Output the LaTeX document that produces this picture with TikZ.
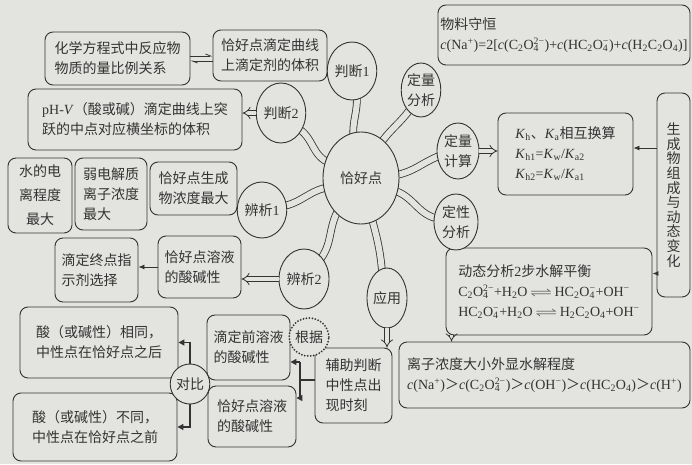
\documentclass[tikz,border=0pt]{standalone}
\usepackage[no-math]{fontspec}
\setmainfont{Noto Sans CJK SC}
\newfontfamily\lat{Liberation Serif}
\usepackage{amsmath,amssymb}
\usetikzlibrary{shapes.geometric,arrows.meta}
\definecolor{paperc}{HTML}{E3E3E0}
\definecolor{inkc}{HTML}{333333}
\pgfdeclarelayer{paper}
\pgfdeclarelayer{background}
\pgfsetlayers{paper,background,main}
\newcommand{\mysub}[1]{\textsubscript{#1}}
\newcommand{\mysup}[1]{\textsuperscript{#1}}
\newcommand{\mysubsup}[2]{\rlap{\textsubscript{#1}}\textsuperscript{#2}}
\newcommand{\myeq}{\,\scalebox{1.6}[1]{$\rightleftharpoons$}\,}
\newcommand{\gt}{{\rmfamily ＞}}
\begin{document}
\begin{tikzpicture}[x=1pt,y=1pt,
  every node/.style={font=\fontsize{14}{20}\selectfont, text=inkc},
  box/.style={draw=inkc, line width=0.9pt, rounded corners=8pt, fill=paperc, align=left, inner sep=2pt},
  ell/.style={draw=inkc, line width=0.9pt, ellipse, fill=paperc, inner sep=0pt, align=center},
  branch/.style={draw=inkc, line width=0.8pt, double=paperc, double distance=6pt, shorten <=-6pt, shorten >=-6pt},
  hollow/.style={draw=inkc, line width=0.8pt, double=paperc, double distance=3.5pt, -{Implies}},
  thinarr/.style={draw=inkc, line width=0.9pt, -{Latex[length=6pt,width=5pt]}},
  brk/.style={draw=inkc, line width=1.6pt},
  brkarr/.style={draw=inkc, line width=1.6pt, -{Triangle[length=6pt,width=6pt]}},
  harp/.style={draw=inkc, line width=0.8pt, -{Straight Barb[left,length=5pt,width=4pt]}}]
\begin{pgfonlayer}{paper}
\fill[paperc] (0,0) rectangle (692,464);
\end{pgfonlayer}
\useasboundingbox (0,0) rectangle (692,464);

% boxes
\node[box, minimum width=145pt, minimum height=53pt] (A) at (117.5,405.5) {化学方程式中反应物\\物质的量比例关系};
\node[box, minimum width=114pt, minimum height=51pt] (B) at (270,408.5) {恰好点滴定曲线\\上滴定剂的体积};
\node[box, minimum width=214pt, minimum height=61pt] (pH) at (135,344.5) {{\lat pH-\textit{V}}（酸或碱）滴定曲线上突\\跃的中点对应横坐标的体积};
\node[box, align=center, minimum width=64pt, minimum height=75pt, font=\fontsize{14}{24}\selectfont] (W1) at (40,268.5) {水的电\\离程度\\最大};
\node[box, minimum width=72pt, minimum height=72pt] (W2) at (111,270) {弱电解质\\离子浓度\\最大};
\node[box, minimum width=87pt, minimum height=53pt] (W3) at (193.5,275.5) {恰好点生成\\物浓度最大};
\node[box, minimum width=83pt, minimum height=64pt] (D1) at (96.5,194) {滴定终点指\\示剂选择};
\node[box, minimum width=83pt, minimum height=62pt] (D2) at (199.5,197) {恰好点溶液\\的酸碱性};
\node[box, minimum width=158pt, minimum height=71pt] (S1) at (99,121.5) {酸（或碱性）相同，\\中性点在恰好点之后};
\node[box, minimum width=164pt, minimum height=68pt] (S2) at (95,37) {酸（或碱性）不同，\\中性点在恰好点之前};
\node[box, minimum width=83pt, minimum height=65pt] (Pre) at (248.5,116.5) {滴定前溶液\\的酸碱性};
\node[box, minimum width=88pt, minimum height=61pt] (Post) at (252,47.5) {恰好点溶液\\的酸碱性};
\node[box, minimum width=77pt, minimum height=75pt] (Aux) at (353.5,78.5) {辅助判断\\中性点出\\现时刻};
\node[box, minimum width=291pt, minimum height=66pt] (Ion) at (544.5,89) {离子浓度大小外显水解程度\\
  {\lat\textit{c}(Na\mysup{+})\gt\textit{c}(C\mysub{2}O\mysubsup{4}{2−})\gt\textit{c}(OH\mysup{−})\gt\textit{c}(HC\mysub{2}O\mysub{4})\gt\textit{c}(H\mysup{+})}};
\node[box, minimum width=206pt, minimum height=87pt] (Dyn) at (549,172.5) {动态分析{\lat 2}步水解平衡\\
  {\lat C\mysub{2}O\mysubsup{4}{2−}+H\mysub{2}O\myeq HC\mysub{2}O\mysubsup{4}{−}+OH\mysup{−}}\\
  {\lat HC\mysub{2}O\mysubsup{4}{−}+H\mysub{2}O\myeq H\mysub{2}C\mysub{2}O\mysub{4}+OH\mysup{−}}};
\node[box, minimum width=135pt, minimum height=82pt] (Kh) at (565.5,310) {{\lat\textit{K}\mysub{h}}、{\lat\textit{K}\mysub{a}}相互换算\\
  {\lat\textit{K}\mysub{h1}=\textit{K}\mysub{w}/\textit{K}\mysub{a2}}\\ {\lat\textit{K}\mysub{h2}=\textit{K}\mysub{w}/\textit{K}\mysub{a1}}};
\node[box, align=center, minimum width=33pt, minimum height=204pt, font=\fontsize{14}{14.6}\selectfont] (Gen) at (673.5,269) {生\\成\\物\\组\\成\\与\\动\\态\\变\\化};
\node[box, minimum width=252pt, minimum height=60pt] (Mat) at (564,429) {物料守恒\\
  {\lat\textit{c}(Na\mysup{+})=2[\textit{c}(C\mysub{2}O\mysubsup{4}{2−})+\textit{c}(HC\mysub{2}O\mysubsup{4}{−})+\textit{c}(H\mysub{2}C\mysub{2}O\mysub{4})]}};

% ellipses
\node[ell, minimum width=76pt, minimum height=92pt] (ctr) at (361,286) {恰好点};
\node[ell, minimum width=44pt, minimum height=58pt] (pd1) at (352,393) {判断{\lat 1}};
\node[ell, minimum width=38pt, minimum height=54pt] (dl) at (421,374) {定量\\分析};
\node[ell, minimum width=46pt, minimum height=60pt] (pd2) at (281,351) {判断{\lat 2}};
\node[ell, minimum width=48pt, minimum height=56pt] (bx1) at (262,254) {辨析{\lat 1}};
\node[ell, minimum width=50pt, minimum height=60pt] (bx2) at (304,185) {辨析{\lat 2}};
\node[ell, minimum width=40pt, minimum height=60pt] (yy) at (387,166) {应用};
\node[ell, minimum width=42pt, minimum height=56pt] (ljs) at (458,313) {定量\\计算};
\node[ell, minimum width=44pt, minimum height=56pt] (dx) at (456,242) {定性\\分析};
\node[ell, draw=inkc, line width=2pt, dash pattern=on 0pt off 3pt, line cap=round, minimum width=38pt, minimum height=38pt] (gj) at (309,127) {根据};
\node[ell, minimum width=36pt, minimum height=40pt] (db) at (190,80) {对比};

% branches
\begin{pgfonlayer}{background}
\draw[branch] (ctr.100) to[out=95,in=-85] (pd1.-80);
\draw[branch] (ctr.60) to[out=55,in=-125] (dl.-120);
\draw[branch] (ctr.155) to[out=160,in=-30] (pd2.-40);
\draw[branch] (ctr.5) to[out=10,in=200] (ljs.195);
\draw[branch] (ctr.195) to[out=190,in=10] (bx1.10);
\draw[branch] (ctr.-20) to[out=-15,in=170] (dx.170);
\draw[branch] (ctr.-125) to[out=-120,in=50] (bx2.50);
\draw[branch] (ctr.-75) to[out=-75,in=95] (yy.100);
\end{pgfonlayer}

% harpoons A <-> B
\coordinate (h1) at ([yshift=2.5pt]A.east);
\coordinate (h2) at ([yshift=-2.5pt]A.east);
\draw[harp] (h1) -- (h1 -| B.west);
\draw[harp] (h2 -| B.west) -- (h2);

% hollow arrows
\draw[hollow] (pd2.west) -- (pd2.west -| pH.east);
\draw[hollow] (bx2.west) -- (bx2.west -| D2.east);
\draw[hollow] (ljs.east) -- (ljs.east -| Kh.west);
\draw[hollow] (yy.south) -- (yy.south |- Aux.north);
\coordinate (dd) at ([xshift=6pt]Dyn.south west);
\draw[hollow] (dd) -- (dd |- Ion.north);

% thin arrows
\draw[thinarr] (D2.west) -- (D2.west -| D1.east);
\coordinate (g1) at ([yshift=6pt]Kh.east);
\draw[thinarr] (g1 -| Gen.west) -- (g1);
\coordinate (g2) at ([yshift=18pt]Dyn.east);
\draw[thinarr] (g2 -| Gen.west) -- (g2);

% bracket from Aux
\coordinate (br) at (300,84);
\coordinate (bt) at (300,102);
\coordinate (bb) at (300,66);
\draw[brk] (Aux.west |- br) -- (br);
\draw[brk] (bt) -- (bb);
\draw[brkarr] (bt) -- (bt -| Pre.east);
\draw[brkarr] (bb) -- (bb -| Post.east);

% compare arrows
\draw[brkarr, line width=1.4pt] (db.north) |- (S1.east);
\draw[brkarr, line width=1.4pt] (db.south) |- (S2.east);
\end{tikzpicture}
\end{document}
